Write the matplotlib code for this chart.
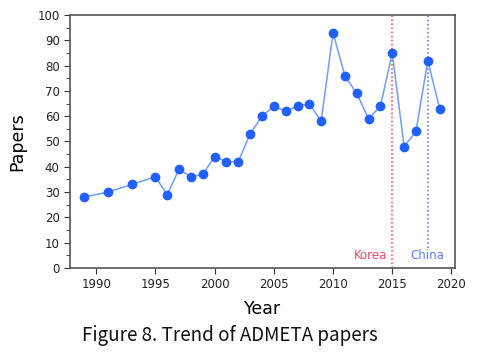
import numpy as np
import matplotlib
matplotlib.use("Agg")
import matplotlib.pyplot as plt
from matplotlib.ticker import MultipleLocator

years = [1989, 1991, 1993, 1995, 1996, 1997, 1998, 1999, 2000, 2001, 2002, 2003,
         2004, 2005, 2006, 2007, 2008, 2009, 2010, 2011, 2012, 2013, 2014, 2015,
         2016, 2017, 2018, 2019]
papers = [28, 30, 33, 36, 29, 39, 36, 37, 44, 42, 42, 53,
          60, 64, 62, 64, 65, 58, 93, 76, 69, 59, 64, 85,
          48, 54, 82, 63]
korea_year = 2015
china_year = 2018

fig = plt.figure(figsize=(4.8, 3.6), dpi=100)
ax = fig.add_axes([0.146, 0.256, 0.802, 0.702])

ax.plot(years, papers, color="#6f9cff", lw=1.1, marker="o", ms=6,
        mfc="#2160ff", mec="#2160ff", zorder=3)

ax.axvline(korea_year, ymin=0, ymax=1, color="#ff3355", ls=":", lw=1.1)
ax.plot([china_year, china_year], [8, 100], color="#4f6fe8", ls=":", lw=1.1)
ax.text(korea_year - 0.4, 2.5, "Korea", color="#ff4466", ha="right", va="bottom", fontsize=8.5)
ax.text(china_year, 2.5, "China", color="#5f7fff", ha="center", va="bottom", fontsize=8.5)

ax.set_xlim(1987.8, 2020.3)
ax.set_ylim(0, 100)
ax.xaxis.set_major_locator(MultipleLocator(5))
ax.yaxis.set_major_locator(MultipleLocator(10))
ax.yaxis.set_minor_locator(MultipleLocator(5))
ax.tick_params(axis="both", which="major", direction="out", length=4, labelsize=8.5,
               colors="#333333", labelcolor="#222222")
ax.tick_params(axis="y", which="minor", direction="out", length=3, color="#333333")
for s in ax.spines.values():
    s.set_color("#555555")
    s.set_linewidth(1.2)

ax.set_xlabel("Year", fontsize=12.5, labelpad=6)
ax.set_ylabel("Papers", fontsize=12.5, labelpad=8)

fig.text(0.478, 0.068, "Figure 8. Trend of ADMETA papers", ha="center", va="center",
         fontsize=13.5, family=["Noto Sans CJK JP", "DejaVu Sans"], color="#111111")

fig.savefig("out.png", dpi=100)
